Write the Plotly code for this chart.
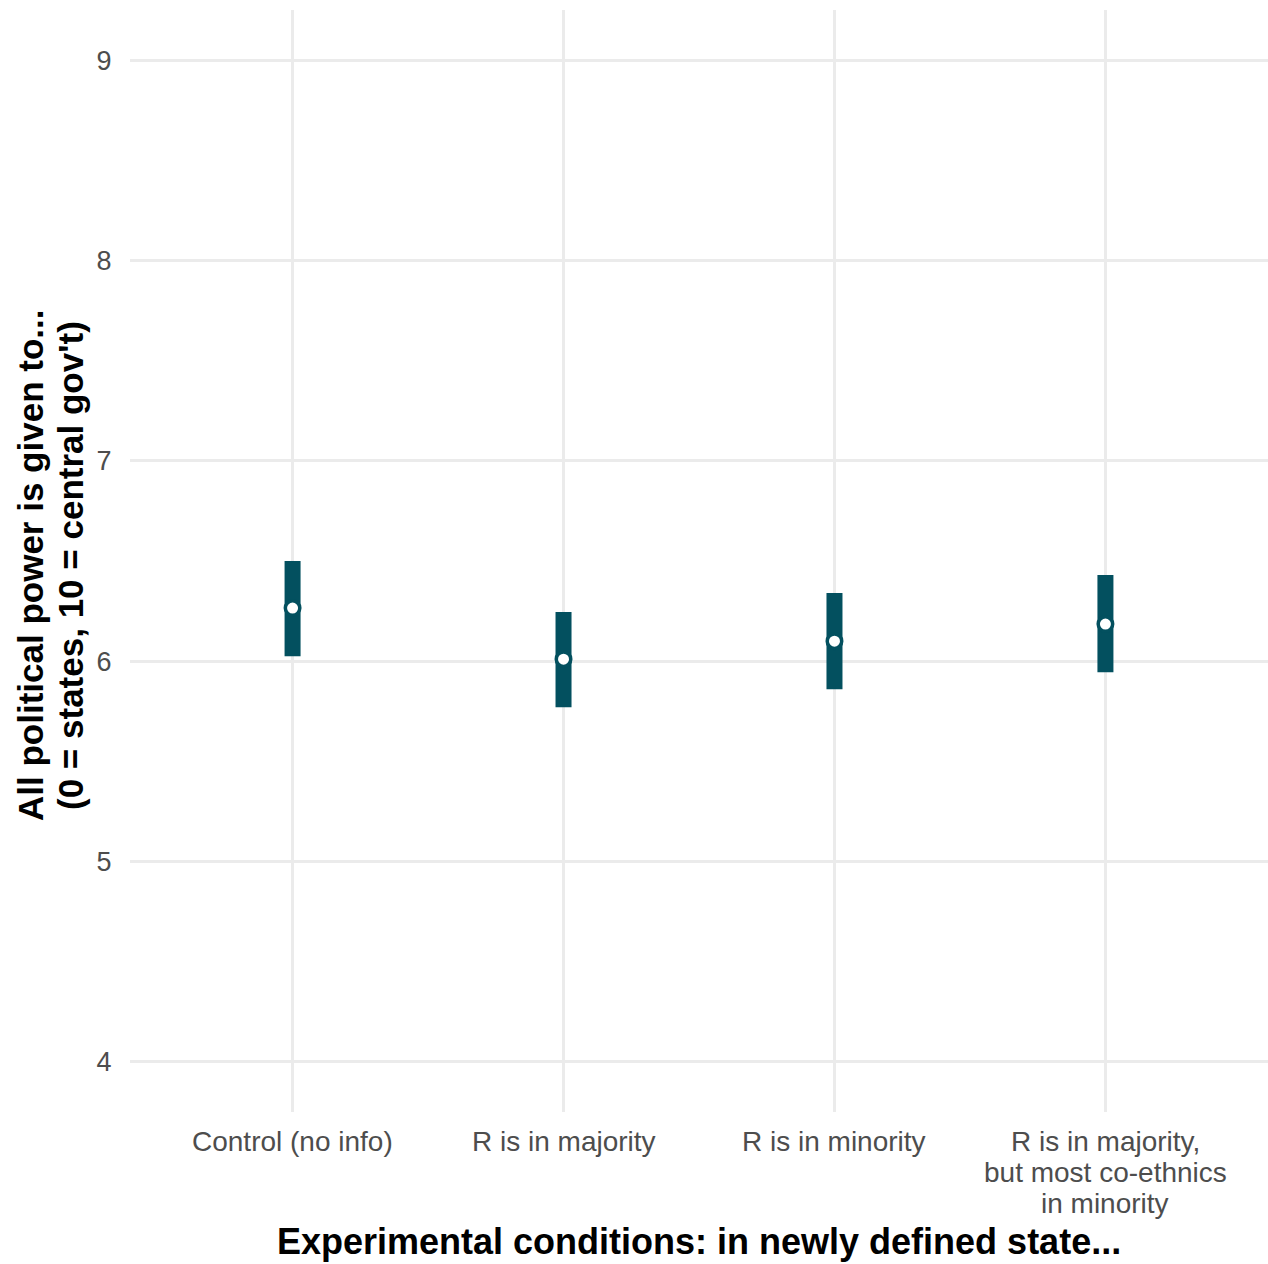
import plotly.graph_objects as go

categories = ["Control (no info)", "R is in majority", "R is in minority",
              "R is in majority,<br>but most co-ethnics<br>in minority"]
means = [6.265, 6.01, 6.10, 6.185]
upper = [6.50, 6.245, 6.34, 6.43]
lower = [6.025, 5.77, 5.86, 5.945]
x_title = "Experimental conditions: in newly defined state..."
y_title_lines = ["All political power is given to...", "(0 = states, 10 = central gov't)"]

color = "#03505F"
xpos = [1, 2, 3, 4]

fig = go.Figure()
fig.add_trace(go.Scatter(
    x=xpos, y=means, mode="markers",
    marker=dict(size=14.5, color="white", line=dict(color=color, width=3.5)),
    error_y=dict(type="data", symmetric=False,
                 array=[u - m for u, m in zip(upper, means)],
                 arrayminus=[m - l for m, l in zip(means, lower)],
                 color=color, thickness=16, width=0),
    showlegend=False,
))

font_family = "Liberation Sans, Arial, sans-serif"
annotations = []
# category labels (tight line spacing as in reference)
for xv, cat in zip(xpos, categories):
    for j, line in enumerate(cat.split("<br>")):
        annotations.append(dict(
            x=xv, xref="x", y=0, yref="paper", yanchor="middle", xanchor="center",
            yshift=-29 - 31 * j, text=line, showarrow=False,
            font=dict(size=28, color="#4D4D4D", family=font_family)))
# x title
annotations.append(dict(
    x=0.5, xref="paper", y=0, yref="paper", yanchor="middle", xanchor="center",
    yshift=-129, text="<b>" + x_title + "</b>", showarrow=False,
    font=dict(size=36, color="black", family=font_family)))
# y title (two lines)
for j, line in enumerate(y_title_lines):
    annotations.append(dict(
        x=0, xref="paper", y=0.5, yref="paper", xanchor="center", yanchor="middle",
        xshift=-100 + 40 * j, yshift=-5, textangle=-90, text="<b>" + line + "</b>",
        showarrow=False, font=dict(size=35, color="black", family=font_family)))

fig.update_layout(
    width=1268, height=1264,
    margin=dict(l=130, r=0, t=10, b=152),
    plot_bgcolor="white", paper_bgcolor="white",
    font=dict(family=font_family),
    annotations=annotations,
    xaxis=dict(
        range=[0.4, 4.6], tickmode="array", tickvals=xpos, showticklabels=False,
        showgrid=True, gridcolor="#EBEBEB", gridwidth=3, zeroline=False,
    ),
    yaxis=dict(
        range=[3.75, 9.25], tickvals=[4, 5, 6, 7, 8, 9],
        showgrid=True, gridcolor="#EBEBEB", gridwidth=3, zeroline=False,
        ticks="outside", ticklen=12, tickcolor="rgba(0,0,0,0)",
        tickfont=dict(size=27, color="#4D4D4D"),
    ),
)

fig.write_html("out.html")
